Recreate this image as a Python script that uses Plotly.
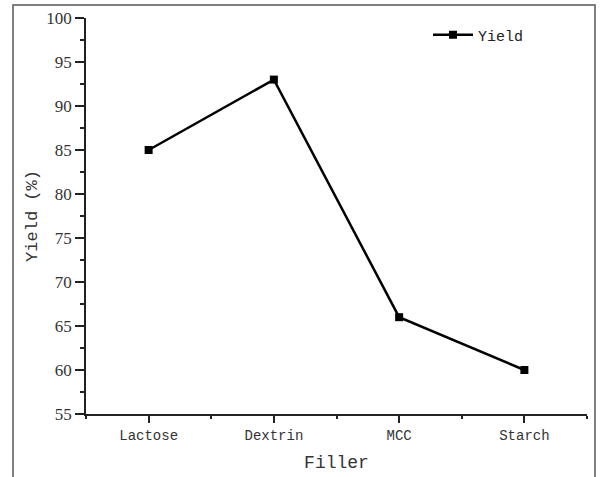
import plotly.graph_objects as go

categories = ["Lactose", "Dextrin", "MCC", "Starch"]
yield_values = [85, 93, 66, 60]
series_name = "Yield"
y_ticks = [55, 60, 65, 70, 75, 80, 85, 90, 95, 100]

W, H = 601, 477
L, R, T, B = 86, 14, 18, 63
pw, ph = W - L - R, H - T - B

def px_x(x):
    return (x - L) / pw

def px_y(y):
    return (H - B - y) / ph

x_idx = list(range(len(categories)))

fig = go.Figure()
fig.add_trace(go.Scatter(
    x=x_idx, y=yield_values, mode="lines+markers", name=series_name,
    line=dict(color="black", width=2.5),
    marker=dict(symbol="square", size=8, color="black"),
))

mono = "Liberation Mono"
serif = "Liberation Serif"

fig.update_layout(
    width=W, height=H,
    margin=dict(l=L, r=R, t=T, b=B, pad=0, autoexpand=False),
    paper_bgcolor="white", plot_bgcolor="white",
    showlegend=True,
    legend=dict(x=px_x(428), y=px_y(35), xanchor="left", yanchor="middle",
                font=dict(family=mono, size=15, color="#222"),
                bgcolor="rgba(0,0,0,0)", itemwidth=40, tracegroupgap=0),
    xaxis=dict(
        automargin=False,
        range=[-0.5, len(categories) - 0.5],
        tickmode="array", tickvals=x_idx, ticktext=categories,
        ticks="outside", ticklen=7, tickwidth=1.5, tickcolor="#222",
        showline=True, linecolor="#222", linewidth=1.5,
        showgrid=False, zeroline=False,
        tickfont=dict(family=mono, size=14, color="#333"),
        minor=dict(tickmode="array", tickvals=[i - 0.5 for i in range(len(categories) + 1)],
                   ticks="outside", ticklen=3, tickwidth=1.5, tickcolor="#222", showgrid=False),
        title=dict(text="Filler", font=dict(family=mono, size=18, color="#333"), standoff=13),
    ),
    yaxis=dict(
        automargin=False,
        range=[55, 100],
        tickmode="array", tickvals=y_ticks,
        ticks="outside", ticklen=9, tickwidth=1.5, tickcolor="#222",
        showline=True, linecolor="#222", linewidth=1.5,
        showgrid=False, zeroline=False,
        tickfont=dict(family=serif, size=17, color="#333"),
        minor=dict(dtick=2.5, tick0=55, ticks="outside", ticklen=4, tickwidth=1.5,
                   tickcolor="#222", showgrid=False),
        title=dict(text="Yield (%)", font=dict(family=mono, size=17, color="#333"), standoff=4),
    ),
)

# outer frame (left, top, right edges)
fig.add_shape(type="path", xref="paper", yref="paper",
              path=f"M {px_x(13)} {px_y(490)} L {px_x(13)} {px_y(5)} L {px_x(595)} {px_y(5)} L {px_x(595)} {px_y(490)}",
              line=dict(color="#555", width=1.5), layer="above")

fig.write_html("out.html")
